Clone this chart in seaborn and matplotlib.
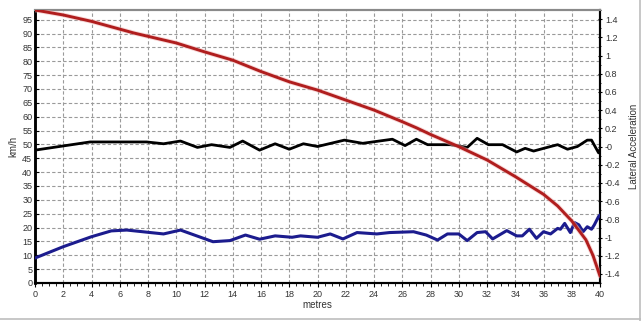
import numpy as np
import pandas as pd
import seaborn as sns
import matplotlib.pyplot as plt
from matplotlib.lines import Line2D
from matplotlib.ticker import MultipleLocator

# speed trace (km/h)
red_x = [0, 2, 4, 6, 7, 8, 10, 12, 14, 16, 18, 20, 22, 24, 26, 27, 28, 30,
         32, 34, 36, 37, 38, 39, 39.5, 40]
red_v = [98.5, 96.7, 94.4, 91.6, 90.2, 89.0, 86.6, 83.4, 80.4, 76.3, 72.6, 69.6,
         66.0, 62.4, 58.2, 56.0, 53.6, 49.2, 44.4, 38.4, 32.0, 27.8, 22.4, 15.6,
         10.0, 2.5]

# second km/h trace
blue_x = [0, 2, 4, 5.4, 6.5, 9.1, 10.3, 12.6, 13.8, 14.9, 15.9, 17, 18.2, 18.8,
          20, 20.9, 21.8, 22.8, 24.2, 25.1, 26.8, 27.7, 28.5, 29.2, 30, 30.6,
          31.3, 31.9, 32.4, 33.4, 34.1, 34.5, 35, 35.5, 36, 36.5, 37, 37.2,
          37.5, 37.9, 38.2, 38.5, 38.8, 39.1, 39.4, 39.6, 39.9, 40]
blue_v = [9.0, 13.1, 16.7, 18.8, 19.1, 17.7, 19.1, 14.9, 15.3, 17.3, 15.8, 17.0,
          16.5, 17.0, 16.5, 17.7, 15.9, 18.2, 17.7, 18.2, 18.5, 17.3, 15.5, 17.7,
          17.7, 15.3, 18.2, 18.5, 15.9, 18.9, 17.0, 17.0, 19.4, 16.1, 18.5, 17.7,
          19.7, 19.4, 21.5, 18.2, 21.8, 21.0, 18.5, 20.3, 19.4, 21.0, 24.0, 24.5]

# lateral acceleration
lat_x = [0, 3.9, 7.9, 9.1, 10.3, 11.5, 12.5, 13.8, 14.7, 15.9, 17, 18, 19, 20,
         21.9, 23.2, 25.3, 26.2, 27, 27.8, 29.4, 30.6, 31.3, 32.1, 33.1, 34.1,
         34.7, 35.3, 36.5, 37, 37.7, 38.4, 39.1, 39.4, 39.9, 40]
lat_g = [-0.04, 0.05, 0.05, 0.03, 0.06, -0.01, 0.02, -0.01, 0.06, -0.04, 0.03,
         -0.03, 0.03, 0.0, 0.07, 0.035, 0.08, 0.01, 0.08, 0.02, 0.02, -0.01, 0.09,
         0.02, 0.02, -0.06, -0.02, -0.05, 0.0, 0.02, -0.03, 0.0, 0.07, 0.07,
         -0.07, -0.03]

sns.set_style("white")
plt.rcParams['font.family'] = ['Liberation Sans', 'DejaVu Sans']

fig = plt.figure(figsize=(6.41, 3.21), dpi=100)
ax = fig.add_axes([35 / 641, 1 - 283 / 321, 565 / 641, 273 / 321])
ax2 = ax.twinx()   # lateral acceleration scale (right)
ax3 = ax.twinx()   # km/h traces drawn on top, same scale as ax

sns.lineplot(x=lat_x, y=lat_g, ax=ax2, color='black', linewidth=2)
sns.lineplot(x=blue_x, y=blue_v, ax=ax3, color='#1c1c8e', linewidth=2.2)
sns.lineplot(x=red_x, y=red_v, ax=ax3, color='#f0b0b0', linewidth=3.4, alpha=0.5)
sns.lineplot(x=red_x, y=red_v, ax=ax3, color='#b01e1e', linewidth=2.1)

ax.set_xlim(0, 40)
ax.set_ylim(0, 98.5)
ax3.set_ylim(0, 98.5)
ax2.set_ylim(-1.5, 1.5)

ax3.set_yticks([])
ax3.set_ylabel('')
for s in ax3.spines.values():
    s.set_visible(False)

ax.xaxis.set_major_locator(MultipleLocator(2))
ax.xaxis.set_minor_locator(MultipleLocator(0.5))
ax.yaxis.set_major_locator(MultipleLocator(5))
rticks = np.round(np.arange(-1.4, 1.41, 0.2), 1)
ax2.set_yticks(rticks)
ax2.set_yticklabels(['%g' % v for v in rticks])
ax2.yaxis.set_minor_locator(MultipleLocator(0.1))

ax.grid(True, which='major', color='#9a9a9a', linestyle=(0, (3, 2)), linewidth=0.8)
ax2.grid(False)
ax3.grid(False)

for a in (ax, ax2):
    a.tick_params(labelsize=6.5, labelcolor='#333333', length=3, width=0.8,
                  color='black', pad=2)
    a.tick_params(which='minor', length=2, width=0.6, color='black')
ax.tick_params(axis='x', which='both', bottom=True, direction='out')
ax.tick_params(axis='y', left=True, direction='in')
ax2.tick_params(axis='y', which='both', right=True, direction='inout')

for a in (ax, ax2):
    a.spines['left'].set_color('black')
    a.spines['left'].set_linewidth(1.8)
    a.spines['bottom'].set_color('black')
    a.spines['bottom'].set_linewidth(1.5)
    a.spines['right'].set_color('black')
    a.spines['right'].set_linewidth(1.5)
    a.spines['top'].set_color('#8a8a8a')
    a.spines['top'].set_linewidth(1.5)

ax.set_xlabel('metres', fontsize=7, color='#333333', labelpad=1)
ax.set_ylabel('km/h', fontsize=7, color='#333333', labelpad=3)
ax2.set_ylabel('Lateral Acceleration', fontsize=7, color='#333333', labelpad=6)

# light frame on the right and bottom of the picture
fig.add_artist(Line2D([0, 1], [0.006, 0.006], color='#bdbdbd', linewidth=1.2))
fig.add_artist(Line2D([0.998, 0.998], [0, 1], color='#bdbdbd', linewidth=1.2))

fig.savefig('out.png', dpi=100)
